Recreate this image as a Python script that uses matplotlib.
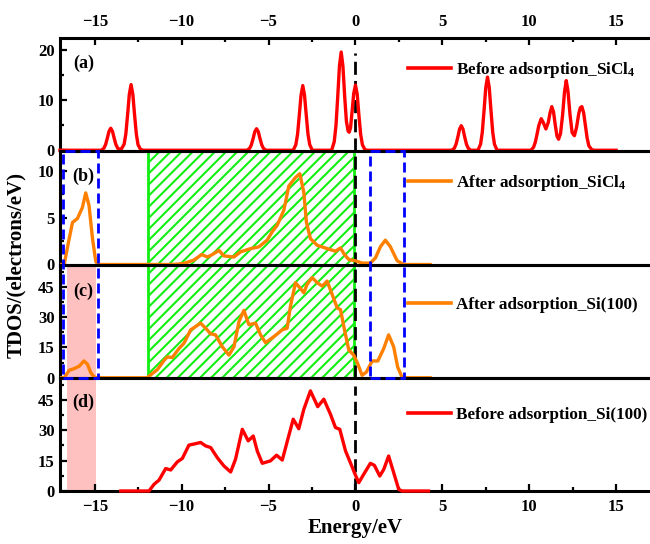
import matplotlib
matplotlib.use("Agg")
import matplotlib.pyplot as plt
from matplotlib.patches import Rectangle
from matplotlib.ticker import MultipleLocator
from matplotlib.lines import Line2D
import matplotlib.transforms as mtransforms
import matplotlib.backend_bases as bb

# ---- hatch density closer to the reference ----
_orig_hatch = bb.GraphicsContextBase.get_hatch_path
def _hatch_path(self, density=18):
    return _orig_hatch(self, density)
bb.GraphicsContextBase.get_hatch_path = _hatch_path

plt.rcParams['font.family'] = ['Liberation Serif', 'DejaVu Serif']
plt.rcParams['font.weight'] = 'bold'
plt.rcParams['axes.labelweight'] = 'bold'
plt.rcParams['mathtext.fontset'] = 'custom'
plt.rcParams['mathtext.rm'] = 'Liberation Serif:bold'
plt.rcParams['mathtext.bf'] = 'Liberation Serif:bold'
plt.rcParams['mathtext.it'] = 'Liberation Serif:bold'
plt.rcParams['hatch.linewidth'] = 1.5

# ---------------- data ----------------
a_energy = [-17.0, -14.63, -14.48, -14.38, -14.28, -14.18, -14.08, -13.98, -13.88, -13.78, -13.68, -13.55,
            -13.46, -13.31, -13.21, -13.11, -13.01, -12.91, -12.81, -12.71, -12.61, -12.51, -12.36, -12.2,
            -6.24, -6.09, -5.99, -5.89, -5.79, -5.69, -5.59, -5.49, -5.39, -5.29, -5.14,
            -3.58, -3.43, -3.33, -3.23, -3.13, -3.03, -2.93, -2.83, -2.73, -2.63, -2.48,
            -1.37, -1.22, -1.12, -1.02, -0.92, -0.82, -0.72, -0.62, -0.52, -0.42, -0.36, -0.28, -0.2, -0.1,
            0.0, 0.1, 0.2, 0.3, 0.4, 0.55, 0.7,
            5.54, 5.69, 5.79, 5.89, 5.99, 6.09, 6.19, 6.29, 6.39, 6.49, 6.64,
            7.05, 7.2, 7.3, 7.4, 7.5, 7.6, 7.7, 7.8, 7.9, 8.0, 8.15,
            10.1, 10.25, 10.35, 10.45, 10.55, 10.69, 10.8, 10.96, 11.1, 11.2, 11.3, 11.4, 11.5, 11.6, 11.69,
            11.8, 11.92, 12.03, 12.13, 12.23, 12.35, 12.47, 12.6, 12.72, 12.85, 12.94, 13.03, 13.13, 13.23,
            13.33, 13.43, 13.6, 13.75, 15.0]
a_dos = [0, 0, 0.37, 1.1, 2.37, 3.77, 4.4, 3.77, 2.37, 1.1, 0.4, 0.12,
         0.3, 1.2, 3.3, 7.1, 11.2, 13.1, 11.2, 7.1, 3.3, 1.1, 0.15, 0,
         0, 0.36, 1.07, 2.3, 3.7, 4.3, 3.7, 2.3, 1.07, 0.36, 0,
         0, 1.1, 3.2, 7.0, 11.0, 12.9, 11.0, 7.0, 3.2, 1.1, 0,
         0, 1.7, 4.9, 10.6, 16.8, 19.6, 16.8, 10.8, 5.8, 3.8, 3.6, 4.5, 7.5, 11.3,
         13.0, 11.2, 7.0, 3.2, 1.1, 0.1, 0,
         0, 0.4, 1.2, 2.6, 4.2, 4.9, 4.2, 2.6, 1.2, 0.4, 0,
         0, 1.2, 3.6, 7.9, 12.5, 14.6, 12.5, 7.9, 3.6, 1.2, 0,
         0, 0.6, 1.6, 3.2, 4.9, 6.3, 5.6, 4.25, 5.6, 7.5, 8.7, 7.6, 5.0, 2.8, 2.2,
         3.3, 7.0, 11.6, 13.9, 11.8, 7.0, 3.5, 2.9, 4.5, 7.3, 8.5, 8.7, 7.5, 5.0,
         2.5, 0.9, 0.1, 0, 0]

b_energy = [-16.9, -16.76, -16.47, -16.28, -16.0, -15.71, -15.52, -15.33, -15.13, -14.94, -14.8, -10.5,
            -9.89, -9.31, -8.85, -8.52, -8.24, -7.85, -7.57, -6.99, -6.61, -6.03, -5.56, -5.08, -4.79,
            -4.5, -4.12, -3.83, -3.45, -3.2, -2.97, -2.82, -2.59, -2.2, -1.63, -1.15, -0.86, -0.63, -0.38,
            0.0, 0.38, 0.86, 1.15, 1.44, 1.72, 2.01, 2.4, 2.78, 4.3]
b_dos = [0, 0, 2.77, 4.5, 4.9, 6.1, 7.65, 6.3, 2.77, 0.3, 0, 0,
         0.1, 0.46, 1.06, 0.8, 1.06, 1.5, 0.92, 0.8, 1.35, 1.7, 1.88, 2.6, 3.5,
         4.2, 5.8, 8.4, 9.3, 9.7, 7.7, 4.5, 2.77, 2.05, 1.7, 1.42, 1.77, 1.06, 0.53,
         0.4, 0.15, 0.15, 0.7, 1.9, 2.6, 1.9, 0.4, 0, 0]

c_energy = [-16.9, -16.76, -16.47, -16.19, -15.9, -15.62, -15.42, -15.23, -15.04, -14.9, -12.0, -11.95,
            -11.4, -11.0, -10.82, -10.54, -10.15, -9.87, -9.48, -9.2, -8.91, -8.62, -8.33, -8.05, -7.66,
            -7.28, -6.99, -6.7, -6.42, -6.13, -5.75, -5.46, -5.17, -4.7, -4.21, -3.93, -3.74, -3.45, -3.2,
            -2.97, -2.78, -2.49, -2.2, -1.91, -1.63, -1.34, -1.05, -0.86, -0.63, -0.38, -0.1, 0.13, 0.38,
            0.63, 0.96, 1.29, 1.63, 1.91, 2.2, 2.43, 2.68, 2.87, 4.3]
c_dos = [0, 0, 3.7, 4.5, 5.7, 8.3, 6.7, 2.5, 0.5, 0, 0, 0.3,
         4, 8.7, 10.3, 10.0, 14.5, 17, 23.7, 25.3, 27, 24.5, 21.7, 21.2, 15.3,
         11.2, 15.3, 27.8, 33.3, 26.2, 27, 21.2, 17.3, 20.3, 23.7, 24.5, 35.3, 47, 44.5,
         42, 46.2, 49.5, 47, 45.3, 47.8, 41.2, 34.5, 33.7, 23.7, 13.7, 11.2, 7, 1.2,
         2.8, 8.3, 8.3, 14.5, 21.2, 15.3, 5.3, 0.3, 0, 0]

d_energy = [-13.5, -11.88, -11.59, -11.3, -10.92, -10.63, -10.25, -9.96, -9.58, -9.2, -8.91, -8.62,
            -8.33, -7.95, -7.57, -7.18, -6.9, -6.51, -6.17, -5.88, -5.65, -5.36, -4.89, -4.54, -4.21,
            -3.89, -3.58, -3.26, -2.97, -2.59, -2.17, -1.82, -1.44, -1.15, -0.9, -0.57, -0.29, -0.06,
            0.19, 0.48, 0.86, 1.09, 1.4, 1.63, 1.91, 2.2, 2.49, 2.68, 4.2]
d_dos = [0, 0, 3.3, 5.4, 11.1, 10.4, 14.4, 16.1, 22.7, 23.4, 24, 22.3,
         21.5, 16.5, 12.4, 9.4, 15.7, 30.5, 24.8, 27.2, 19.8, 13.7, 14.9, 17.7, 15.3,
         25.6, 35.5, 30.8, 40.4, 49.5, 41.7, 45.4, 38, 31.4, 30.5, 19.8, 14, 9.1,
         4.1, 8.3, 13.7, 12.7, 7.4, 10.7, 17.3, 9.1, 0.8, 0, 0]

panel_tags = ['(a)', '(b)', '(c)', '(d)']
legend_labels = ['Before adsorption_SiCl$_4$', 'After adsorption_SiCl$_4$',
                 'After adsorption_Si(100)', 'Before adsorption_Si(100)']
series_colors = ['#ff0000', '#ff8000', '#ff8000', '#ff0000']
y_limits = [(-0.2, 22.4), (0, 12.1), (0, 56), (0, 56)]
y_major = [10, 5, 15, 15]
y_minor = [5, 2.5, 7.5, 7.5]
legend_y = [0.72, 0.72, 0.64, 0.67]

green_region = (-11.95, -0.1)           # panels b-c, hatched
blue_regions = [(-16.8, -14.8), (0.86, 2.82)]   # panels b-c, dashed boxes
pink_region = (-16.6, -14.95)           # panels c-d, shaded

energies = [a_energy, b_energy, c_energy, d_energy]
doses = [a_dos, b_dos, c_dos, d_dos]

# ---------------- figure ----------------
fig = plt.figure(figsize=(6.5, 5.44), dpi=100)
gs = fig.add_gridspec(4, 1, left=60/650, right=1.0, top=1-38/544, bottom=1-491/544, hspace=0)
axes = [fig.add_subplot(gs[i]) for i in range(4)]

for i, ax in enumerate(axes):
    ax.set_facecolor('none')
    ax.plot(energies[i], doses[i], color=series_colors[i], lw=2.4, zorder=4, clip_on=False,
            solid_joinstyle='round')
    ax.set_xlim(-17.0, 16.95)
    ax.set_ylim(*y_limits[i])
    ax.xaxis.set_major_locator(MultipleLocator(5))
    ax.xaxis.set_minor_locator(MultipleLocator(2.5))
    ax.yaxis.set_major_locator(MultipleLocator(y_major[i]))
    ax.yaxis.set_minor_locator(MultipleLocator(y_minor[i]))
    for s in ax.spines.values():
        s.set_linewidth(2.2)
    ax.spines['right'].set_visible(False)
    ax.tick_params(axis='y', which='both', direction='in', left=True, right=False,
                   labelsize=12, pad=4, width=1.6)
    ax.tick_params(axis='y', which='major', length=5)
    ax.tick_params(axis='y', which='minor', length=3)
    ax.tick_params(axis='x', which='both', direction='in', bottom=False, top=False,
                   labelbottom=False, labeltop=False, labelsize=12, pad=6, width=1.6)
    ax.tick_params(axis='x', which='major', length=5)
    ax.tick_params(axis='x', which='minor', length=3)
    # Fermi level
    ymax = 0.87 if i == 0 else (0.93 if i == 3 else 1.0)
    ax.axvline(0, ymin=0, ymax=ymax, color='black', lw=2.0, linestyle=(0, (4.7, 2.2)), zorder=3)
    ax.text(0.04, 0.78 if i != 2 else 0.76, panel_tags[i], transform=ax.transAxes,
            fontsize=13, ha='center', va='center')
    h = Line2D([], [], color=series_colors[i], lw=2.6)
    ax.legend([h], [legend_labels[i]], loc='center left', bbox_to_anchor=(0.59, legend_y[i]),
              frameon=False, handlelength=2.5, handletextpad=0.3, borderpad=0,
              borderaxespad=0, fontsize=12.3)

axes[0].tick_params(axis='x', which='both', top=True, labeltop=True)
axes[3].tick_params(axis='x', which='both', bottom=True, labelbottom=True)
axes[3].set_xlabel('Energy/eV', fontsize=15, labelpad=2)

fig.text(16/650, 1-265/544, 'TDOS/(electrons/eV)', rotation=90, fontsize=15,
         ha='center', va='center', fontweight='bold')

# ---------------- cross-panel regions ----------------
trans = mtransforms.blended_transform_factory(axes[3].transData, fig.transFigure)
yb_top = axes[1].get_position().y1
yc_bot = axes[2].get_position().y0
yc_top = axes[2].get_position().y1
yd_bot = axes[3].get_position().y0

fig.add_artist(Rectangle((pink_region[0], yd_bot), pink_region[1]-pink_region[0], yc_top-yd_bot,
                         transform=trans, facecolor='#ffc0c0', edgecolor='none', zorder=-2))
fig.add_artist(Rectangle((green_region[0], yc_bot), green_region[1]-green_region[0], yb_top-yc_bot,
                         transform=trans, facecolor='none', edgecolor='#11ee11', hatch='/',
                         lw=2.0, zorder=-1))
for x0, x1 in blue_regions:
    fig.add_artist(Rectangle((x0, yc_bot), x1-x0, yb_top-yc_bot, transform=trans,
                             facecolor='none', edgecolor='#0000ff', lw=2.0,
                             linestyle=(0, (3.6, 1.8)), zorder=5))

fig.savefig('out.png', dpi=100)
